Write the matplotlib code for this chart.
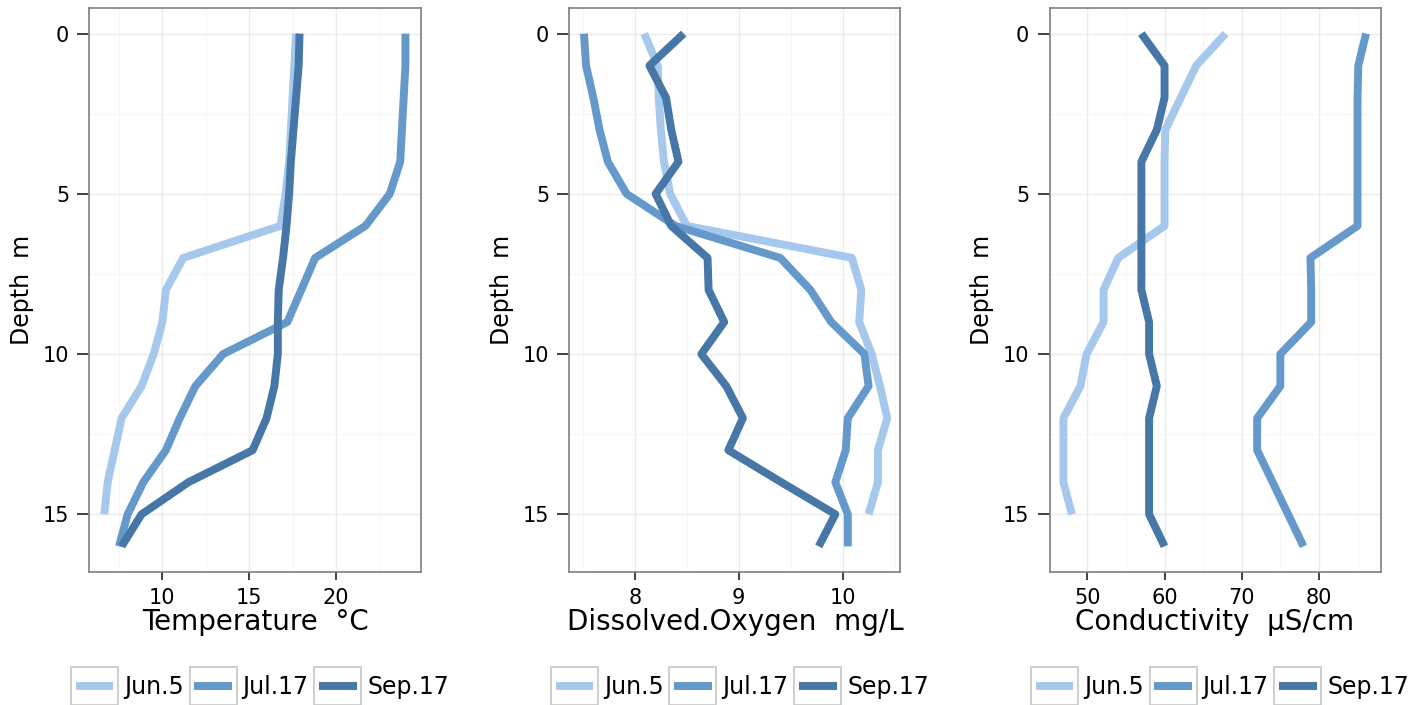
import matplotlib
matplotlib.use('Agg')
import matplotlib.pyplot as plt
from matplotlib.legend_handler import HandlerBase
from matplotlib.patches import Rectangle
from matplotlib.lines import Line2D
from matplotlib.ticker import MultipleLocator

plt.rcParams['font.family'] = ['DejaVu Sans']

# depth in metres
depth = [0, 1, 2, 3, 4, 5, 6, 7, 8, 9, 10, 11, 12, 13, 14, 15, 16]
dates = ['Jun.5', 'Jul.17', 'Sep.17']
colors = ['#a5c8ec', '#6599cb', '#4677a6']

# temperature, degC
temp_jun = [17.7, 17.6, 17.5, 17.4, 17.3, 17.1, 16.8, 11.2, 10.2, 10.0, 9.5, 8.8, 7.65, 7.25, 6.85, 6.65]
temp_jul = [24.0, 24.0, 23.9, 23.8, 23.7, 23.1, 21.7, 18.8, 18.0, 17.2, 13.5, 11.9, 11.0, 10.2, 8.9, 8.0, 7.5]
temp_sep = [17.9, 17.85, 17.7, 17.55, 17.4, 17.3, 17.15, 16.95, 16.7, 16.65, 16.65, 16.45, 16.0, 15.2, 11.5, 8.8, 7.65]

# dissolved oxygen, mg/L
do_jun = [8.09, 8.22, 8.23, 8.25, 8.28, 8.34, 8.5, 10.09, 10.18, 10.16, 10.28, 10.36, 10.43, 10.34, 10.34, 10.25]
do_jul = [7.51, 7.53, 7.6, 7.66, 7.74, 7.92, 8.39, 9.40, 9.69, 9.89, 10.21, 10.25, 10.05, 10.03, 9.93, 10.05, 10.05]
do_sep = [8.47, 8.14, 8.3, 8.35, 8.42, 8.2, 8.35, 8.7, 8.71, 8.86, 8.64, 8.88, 9.04, 8.9, 9.41, 9.93, 9.77]

# conductivity, uS/cm
cond_jun = [67.9, 64.1, 62.1, 60.1, 60.0, 60.0, 60.0, 54.0, 52.1, 52.1, 49.9, 49.1, 46.9, 46.9, 46.9, 48.0]
cond_jul = [86.1, 85.1, 85.0, 85.0, 85.0, 85.0, 85.0, 78.9, 79.0, 79.0, 75.0, 75.0, 72.0, 72.0, 74.0, 76.0, 78.0]
cond_sep = [57, 60, 60, 59, 57, 57, 57, 57, 57, 58, 58, 59, 58, 58, 58, 58, 60]


class KeyBox(HandlerBase):
    # legend key like ggplot: grey box with line inside
    def create_artists(self, legend, orig_handle, xdescent, ydescent,
                       width, height, fontsize, trans):
        cy = height / 2 - ydescent
        x0 = -xdescent
        bh = 1.62 * fontsize
        box = Rectangle((x0, cy - bh / 2), width, bh, fc='white',
                        ec='#cccccc', lw=1.3, transform=trans)
        ln = Line2D([x0 + 0.1 * width, x0 + 0.9 * width], [cy, cy],
                    color=orig_handle.get_color(),
                    lw=orig_handle.get_linewidth(),
                    solid_capstyle='butt', transform=trans)
        return [box, ln]


fig = plt.figure(figsize=(14.25, 7.05), dpi=100)

panels = [
    ([temp_jun, temp_jul, temp_sep], 'Temperature  °C', (5.8, 24.87), 5, 0.0628),
    ([do_jun, do_jul, do_sep], 'Dissolved.Oxygen  mg/L', (7.37, 10.557), 1, 0.3996),
    ([cond_jun, cond_jul, cond_sep], 'Conductivity  µS/cm', (45.1, 87.98), 10, 0.7365),
]

for series, xlabel, xlim, step, left in panels:
    ax = fig.add_axes([left, 0.1887, 0.2323, 0.80])
    lines = []
    for vals, lab, col in zip(series, dates, colors):
        l, = ax.plot(vals, depth[:len(vals)], color=col, lw=5.7, label=lab,
                     solid_capstyle='butt', solid_joinstyle='round')
        lines.append(l)
    ax.set_xlim(*xlim)
    ax.set_ylim(16.8, -0.8)
    ax.xaxis.set_major_locator(MultipleLocator(step))
    ax.xaxis.set_minor_locator(MultipleLocator(step / 2))
    ax.yaxis.set_major_locator(MultipleLocator(5))
    ax.yaxis.set_minor_locator(MultipleLocator(2.5))
    ax.grid(which='major', color='#ebebeb', lw=1.0)
    ax.grid(which='minor', color='#f7f7f7', lw=0.8)
    ax.set_axisbelow(True)
    for sp in ax.spines.values():
        sp.set_color('#7f7f7f')
        sp.set_linewidth(1.2)
    ax.tick_params(axis='x', which='major', length=6, width=1.3, color='#333333',
                   labelsize=15, pad=5.5)
    ax.tick_params(axis='y', which='major', length=8.5, width=1.3, color='#333333',
                   labelsize=15, pad=6)
    ax.tick_params(which='minor', length=0)

    ax.set_xlabel(xlabel, fontsize=20, va='center')
    ax.xaxis.set_label_coords(0.5, -0.088)
    ax.set_ylabel('Depth  m', fontsize=17, va='center')
    ax.yaxis.set_label_coords(-0.204, 0.5)

    ax.legend(handles=lines, handler_map={Line2D: KeyBox()}, ncol=3,
              loc='center', bbox_to_anchor=(0.515, -0.204), frameon=False,
              fontsize=17, handlelength=1.99, handletextpad=0.25,
              columnspacing=0.25, borderpad=0, borderaxespad=0)

fig.savefig('out.png', dpi=100)
